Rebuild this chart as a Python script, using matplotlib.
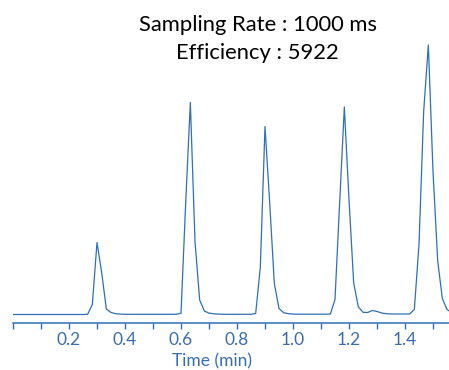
import matplotlib
matplotlib.use("Agg")
import matplotlib.pyplot as plt
import numpy as np
from matplotlib.ticker import MultipleLocator, FixedLocator

# sample index (1 s sampling -> 1/60 min)
sample_index = list(range(95))
signal = [
    0.0, 0.0, 0.0, 0.0, 0.0, 0.0, 0.0, 0.0, 0.0, 0.0,
    0.0, 0.0, 0.0, 0.0, 0.0, 0.0, 0.3, 10, 72, 42,
    5.5, 2, 0.8, 0.4, 0.2, 0.2, 0.2, 0.2, 0.2, 0.2,
    0.2, 0.2, 0.2, 0.2, 0.2, 0.3, 1.2, 111, 212, 73,
    14.5, 3.5, 1.4, 0.7, 0.4, 0.2, 0.2, 0.2, 0.2, 0.2,
    0.2, 0.2, 1.0, 47.5, 188, 112, 31, 6, 1.8, 0.8,
    0.5, 0.3, 0.3, 0.3, 0.3, 0.3, 0.3, 0.3, 0.5, 15,
    112, 207.5, 115, 31.6, 7.6, 2.2, 2.0, 4.0, 3.0, 1.5,
    0.8, 0.5, 0.5, 0.5, 0.5, 0.5, 5, 70, 203, 269.5,
    143, 54, 16, 5, 2,
]
time_min = [i / 60.0 for i in sample_index]

tick_labels = ["0.2", "0.4", "0.6", "0.8", "1.0", "1.2", "1.4"]
tick_values = [0.2, 0.4, 0.6, 0.8, 1.0, 1.2, 1.4]

title_lines = ["Sampling Rate : 1000 ms", "Efficiency : 5922"]

blue = "#2e6fb7"
text_blue = "#3a6daf"

W, H = 449, 370
fig = plt.figure(figsize=(W / 100, H / 100), dpi=100)
left, right = 13, 449
bottom, top = 322.7, 30
ax = fig.add_axes([left / W, (H - bottom) / H, (right - left) / W, (bottom - top) / H])

ax.plot(time_min, signal, color=blue, lw=0.9)

ax.set_xlim(0, (right - left) / 280.0)
ax.set_ylim(-(bottom - 314.5), 314.5 - top)

for s in ("left", "top", "right"):
    ax.spines[s].set_visible(False)
ax.spines["bottom"].set_color(blue)
ax.spines["bottom"].set_linewidth(1.1)
ax.set_yticks([])

ax.xaxis.set_major_locator(FixedLocator(tick_values))
ax.set_xticklabels(tick_labels)
ax.xaxis.set_minor_locator(MultipleLocator(0.1))
ax.tick_params(axis="x", which="both", direction="out", length=4.5, width=1.0,
               color=blue, labelcolor=text_blue, labelsize=12.5, pad=2.5)
for lab in ax.get_xticklabels():
    lab.set_fontfamily("Lato")

ax.set_xlabel("Time (min)", color=text_blue, fontsize=12.5, fontfamily="Lato")
ax.xaxis.set_label_coords((212 - left) / (right - left), -(361 - bottom) / (bottom - top), transform=ax.transAxes)
ax.xaxis.label.set_va("center")

fig.text(258 / W, 1 - 25 / H, title_lines[0], ha="center", va="center",
         fontsize=15.8, fontfamily="Lato", color="black")
fig.text(257 / W, 1 - 53 / H, title_lines[1], ha="center", va="center",
         fontsize=15.8, fontfamily="Lato", color="black")

fig.savefig("out.png", dpi=100)
